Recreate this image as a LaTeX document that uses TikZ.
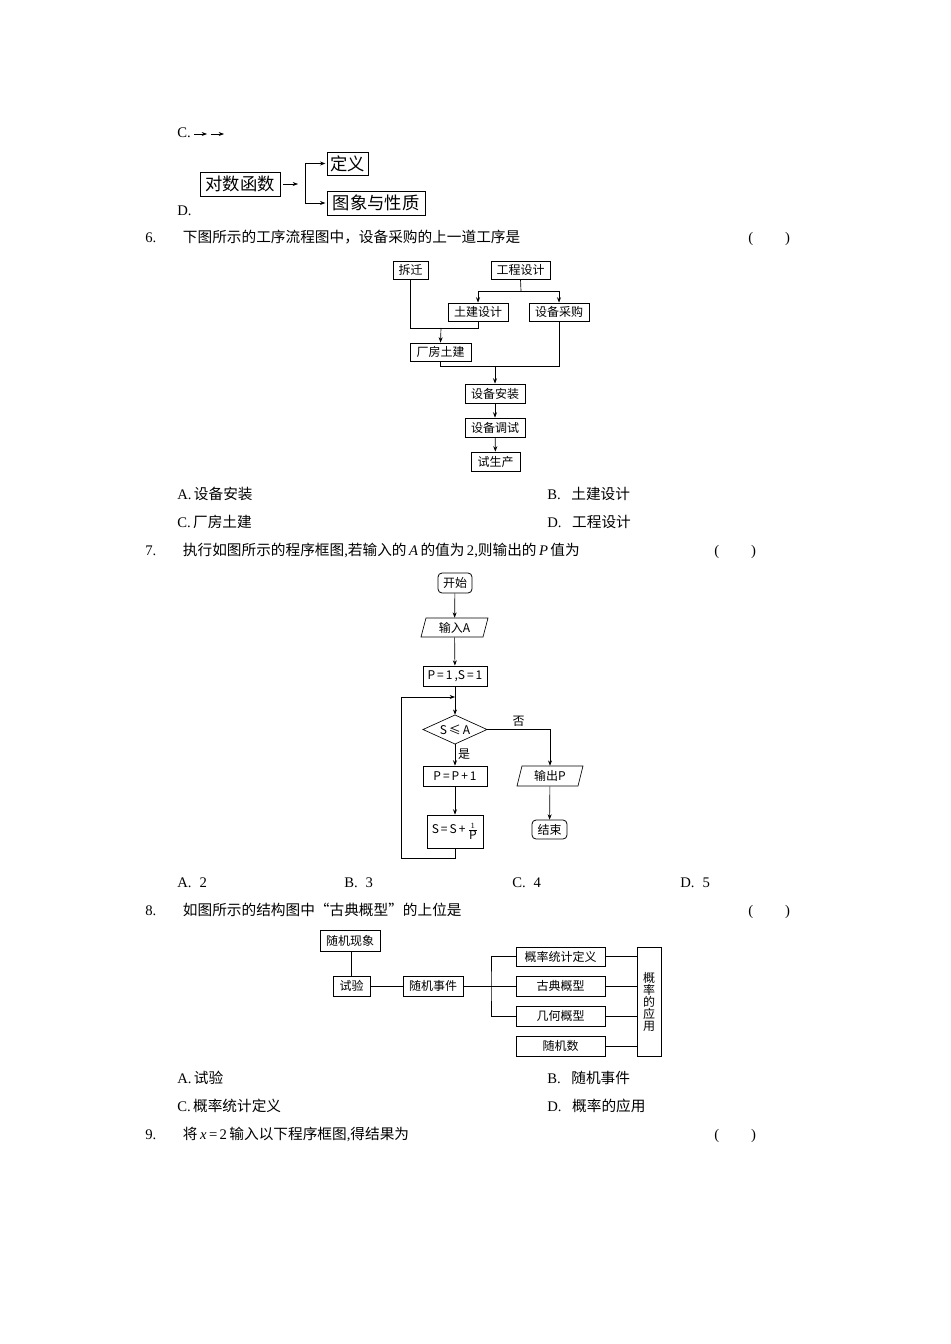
\documentclass[tikz,border=0pt]{standalone}
\usepackage{fontspec}
\setmainfont{Liberation Serif}
\newfontfamily\cjk{Noto Sans CJK SC}
\usetikzlibrary{arrows.meta}
\tikzset{
 bx/.style={draw,line width=0.6pt,inner sep=0pt,font=\cjk\fontsize{9}{9}\selectfont},
 ghost/.style={inner sep=0pt,font=\cjk\fontsize{9}{9}\selectfont},
 ln/.style={line width=0.5pt},
 ar/.style={line width=0.5pt,-{Stealth[length=4pt,width=3pt]}},
 txt/.style={anchor=base west,inner sep=0pt,font=\fontsize{11}{11}\selectfont},
}
\newcommand\bx[7][bx]{\node[#1,minimum width={(#5-#3)*0.75pt},minimum height={(#6-#4)*0.75pt}] (#2) at ({(#3+#5)/2},{(#4+#6)/2}) {#7};}
\begin{document}
\begin{tikzpicture}[x=0.75pt,y=-0.75pt]
\useasboundingbox[fill=white] (0,0) rectangle (950,1344);
% Q5 C D
\node[txt] (c5) at (177,138) {C.};
\coordinate (c1) at (194,134);\coordinate (c2) at (207,134);\coordinate (c3) at (211,134);\coordinate (c4) at (224,134);
\draw[ar] (c1)--(c2); \draw[ar] (c3)--(c4);
\node[txt] (d5) at (177,216) {D.};
\tikzset{bb/.style={bx,line width=0.5pt,font=\cjk\fontsize{13}{13}\selectfont}}
\bx[bb]{dshs}{200}{172}{280}{196}{对数函数}
\bx[bb]{dy}{327}{152}{368}{175}{定义}
\bx[bb]{txyxz}{327}{191}{425}{215}{图象与性质}
\coordinate (br) at (298,184);
\draw[ar] ([xshift=2pt]dshs.east)--(br);
\draw[ar] ([xshift=-16pt]dy.west) -- ([xshift=-1pt]dy.west);
\draw[ar] ([xshift=-16pt]txyxz.west) -- ([xshift=-1pt]txyxz.west);
\draw[ln] ([xshift=-16pt]dy.west) -- ([xshift=-16pt]txyxz.west);
% Q6
\node[txt] (q6) at (145,243) {6.\hspace{20pt}{\cjk 下图所示的工序流程图中，设备采购的上一道工序是}};
\node[txt] (p6) at (748,243) {(\hspace{24pt})};
\bx{cq}{393}{261}{428}{279}{拆迁}
\bx{gcsj}{491}{261}{550}{279}{工程设计}
\bx{tjsj}{448}{303}{508}{321}{土建设计}
\bx{sbcg}{529}{303}{589}{321}{设备采购}
\bx{cftj}{410}{343}{471}{361}{厂房土建}
\bx{sbaz}{465}{384}{525}{403}{设备安装}
\bx{sbts}{465}{418}{525}{437}{设备调试}
\bx{ssc}{471}{452}{520}{471}{试生产}
\coordinate (j1) at (521,291);
\draw[ln] (gcsj.south)--(j1);
\draw[ar] (j1)-|(tjsj.north);
\draw[ar] (j1)-|(sbcg.north);
\coordinate (j2) at (441,328);
\draw[ln] (cq.south) |- (j2);
\draw[ln] (tjsj.south) |- (j2);
\draw[ar] (j2)--(cftj.north);
\coordinate (j3) at (495,366);
\draw[ln] (cftj.south) |- (j3);
\draw[ln] (sbcg.south) |- (j3);
\draw[ar] (j3)--(sbaz.north);
\draw[ar] (sbaz)--(sbts);
\draw[ar] (sbts)--(ssc);
\node[txt] at (177,499) {A.\,{\cjk 设备安装}};
\node[txt] at (547,499) {B.\hspace{8pt}{\cjk 土建设计}};
\node[txt] at (177,527) {C.\,{\cjk 厂房土建}};
\node[txt] at (547,527) {D.\hspace{8pt}{\cjk 工程设计}};
% Q7
\node[txt] (q7) at (145,555) {7.\hspace{20pt}{\cjk 执行如图所示的程序框图}{,}{\cjk 若输入的}\,\textit{A}\,{\cjk 的值为}\,2{,}{\cjk 则输出的}\,\textit{P}\,{\cjk 值为}};
\node[txt] (p7) at (714,555) {(\hspace{24pt})};
\bx[bx,rounded corners=3pt]{ks}{438}{573}{472}{593}{开始}
\bx[ghost]{sr}{421}{618}{488}{637}{输入\textit{A}}
\draw[ln] (426,618)--(488,618)--(483,637)--(421,637)--cycle;
\bx{init}{423}{666}{487}{686}{\textit{P}\,=\,1\,,\textit{S}\,=\,1}
\bx[ghost]{pd}{423}{715}{487}{744}{\textit{S}\,≤\,\textit{A}}
\draw[ln] (423,729.5)--(455,715)--(487,729.5)--(455,744)--cycle;
\bx{pp}{423}{766}{487}{786}{\textit{P}\,=\,\textit{P}\,+\,1}
\bx{ss}{427}{815}{483}{848}{\textit{S}\,=\,\textit{S}\,+\,$\frac{1}{\textit{P}}$}
\bx[ghost]{sc}{517}{766}{583}{786}{输出\textit{P}}
\draw[ln] (522,766)--(583,766)--(578,786)--(517,786)--cycle;
\bx[bx,rounded corners=3pt]{js}{532}{820}{567}{839}{结束}
\draw[ar] (ks)--(sr);
\draw[ar] (sr)--(init);
\draw[ar] (init)--(pd.north);
\draw[ar] (pd.south)--(pp) node[pos=0.45,right,font=\cjk\fontsize{9}{9}\selectfont,inner sep=2pt]{是};
\draw[ar] (pp)--(ss);
\draw[ar] (pd.east)-|(sc.north) node[pos=0.25,above,font=\cjk\fontsize{9}{9}\selectfont,inner sep=2pt]{否};
\draw[ar] (sc)--(js);
\coordinate (lp) at (455,697);
\draw[ar] (ss.south)--++(0,-10*0.75pt)-|(401,697)--(lp);
\node[txt] at (177,887) {A.\hspace{6pt}2};
\node[txt] at (344,887) {B.\hspace{6pt}3};
\node[txt] at (512,887) {C.\hspace{6pt}4};
\node[txt] at (680,887) {D.\hspace{6pt}5};
% Q8
\node[txt] (q8) at (145,915) {8.\hspace{20pt}{\cjk 如图所示的结构图中“古典概型”的上位是}};
\node[txt] (p8) at (748,915) {(\hspace{24pt})};
\bx{sjxx}{320}{930}{380}{951}{随机现象}
\bx{sy}{333}{976}{370}{996}{试验}
\bx{sjsj}{403}{976}{463}{996}{随机事件}
\bx{tjdy}{516}{947}{605}{966}{概率统计定义}
\bx{gd}{516}{976}{605}{996}{古典概型}
\bx{jh}{516}{1006}{605}{1026}{几何概型}
\bx{sjs}{516}{1036}{605}{1056}{随机数}
\bx{yy}{637}{947}{661}{1056}{\parbox{9pt}{\centering 概\\率\\的\\应\\用}}
\draw[ln] (sjxx.south-|sy.north)--(sy.north);
\draw[ln] (sy)--(sjsj);
\coordinate (v8) at (491,986);
\draw[ln] (sjsj)--(gd.west);
\draw[ln] (tjdy.west)-|(v8)|-(jh.west);
\foreach \n in {tjdy,gd,jh,sjs} \draw[ln] (\n.east)--(\n.east-|yy.west);
\node[txt] at (177,1083) {A.\,{\cjk 试验}};
\node[txt] at (547,1083) {B.\hspace{8pt}{\cjk 随机事件}};
\node[txt] at (177,1111) {C.\,{\cjk 概率统计定义}};
\node[txt] at (547,1111) {D.\hspace{8pt}{\cjk 概率的应用}};
\node[txt] (q9) at (145,1139) {9.\hspace{20pt}{\cjk 将}\,\textit{x}\,=\,2\,{\cjk 输入以下程序框图}{,}{\cjk 得结果为}};
\node[txt] (p9) at (714,1139) {(\hspace{24pt})};
\end{tikzpicture}
\end{document}
